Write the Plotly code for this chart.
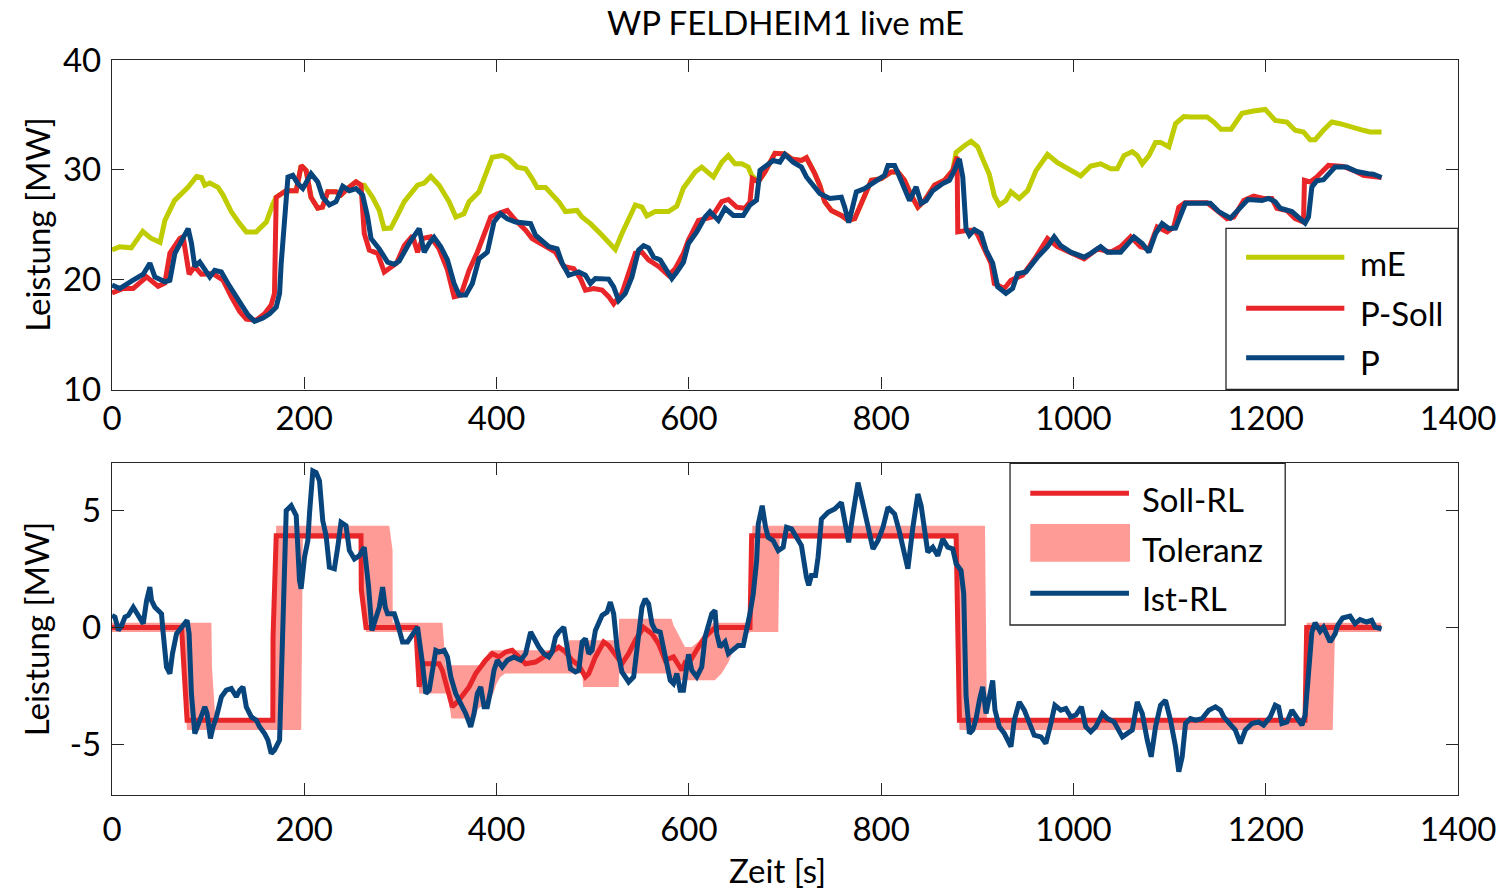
import plotly.graph_objects as go

# ---------------- upper panel: power [MW] ----------------
me_t = [0, 8, 20, 32, 40, 50, 55, 65, 79, 88, 93, 96.5, 101.7, 110.3, 115.5, 124, 132.8, 139.7, 150, 160.5, 167.3,
        170.8, 181, 191.6, 196.8, 201.9, 207, 214, 218.9, 224.4, 233, 238, 247, 253.8, 259,
        262.4, 271, 278, 283, 290, 296, 304, 317.8, 324.7, 331.6, 340.2, 350.6, 357.6, 366, 371.4, 381.7, 388.7,
        395.5, 405.9, 412.9, 421.5, 430.2, 437, 442.2, 450.9, 457.8, 464.7, 471.7, 483.7, 488.9, 497.6, 509.7, 520,
        523.5, 530.4, 537.3, 544.3, 551.2, 556.3, 565, 578.8, 587.5, 594.4, 606.5, 613.4, 625.5, 634.2, 641, 648,
        655, 661.8, 665.3,
        672.2, 679.1, 689.5, 699.8, 706.7, 717.1, 722.3, 731, 736.1, 741.3, 748.2, 758.6, 765.6, 772.5, 781.1,
        789.8, 800.1, 810.5, 817.4, 824.3, 831.2, 838.2, 845.1, 855.5, 865.9, 874.5, 878,
        882, 886.6, 893.5, 900.4, 905.6, 912.5, 917.7, 922.9, 929.8, 935, 943.6, 952.3, 960.9, 973, 983.4, 995.5,
        1007.6, 1018, 1028.3, 1038.7, 1045.6, 1052.6, 1061.2, 1066.4, 1071.6, 1078.5, 1085.4, 1090.6, 1099.3,
        1106.2, 1114.8, 1121.7, 1139, 1146, 1153.5, 1164, 1168.5, 1175.4, 1187.4, 1199.5, 1209.9, 1222, 1230.6,
        1239.3, 1246.2, 1251.4, 1260, 1268.7, 1277.3, 1287.7, 1301.5, 1308.4, 1320.5]
me_v = [22.7, 23.0, 22.9, 24.4, 23.8, 23.4, 25.4, 27.2, 28.4, 29.4, 29.3, 28.6, 28.8, 28.4, 27.7, 26.2, 25.1, 24.35,
        24.35, 25.25, 26.9,
        27.5, 28.1, 28.1, 30.4, 29.95, 27.5, 26.5, 26.6, 28.0, 28.0, 27.7, 28.45, 28.9, 28.6,
        28.6, 27.5, 26.3, 24.65, 24.7, 25.7, 27.1, 28.6, 28.8, 29.4, 28.6, 27.1, 25.7, 26.0, 27.1, 28.0, 29.65,
        31.15, 31.3, 31.0, 30.25, 30.1, 29.2, 28.4, 28.4, 27.8, 27.1, 26.2, 26.3, 25.7, 25.1, 24.05, 23.0,
        22.75, 24.2, 25.4, 26.8, 26.6, 25.8, 26.2, 26.2, 26.7, 28.35, 29.8, 30.25, 29.35, 30.7, 31.3, 30.55,
        30.55, 30.25, 29.5,
        28.9, 29.8, 31.5, 31.45, 31.0, 30.85, 31.1, 29.65, 28.6, 27.1, 26.3, 25.85, 25.4, 25.55, 27.2,
        29.05, 29.2, 29.8, 29.8, 29.05, 27.7, 26.6, 27.2, 28.6, 29.05, 29.95, 31.6,
        31.9, 32.2, 32.6, 32.1, 31.0, 29.6, 27.65, 26.8, 27.2, 28.0, 27.4, 28.1, 29.9, 31.4, 30.65, 30.05,
        29.45, 30.35, 30.55, 30.1, 30.1, 31.3, 31.65, 31.3, 30.55, 31.3, 32.5, 32.5, 32.1,
        34.2, 34.85, 34.8, 34.8, 34.35, 33.7, 33.7, 34.35, 35.15, 35.35, 35.5, 34.5, 34.35, 33.6,
        33.45, 32.75, 32.75, 33.6, 34.35, 34.2, 33.9, 33.6, 33.45, 33.45]

psoll_t = [0, 11.8, 22, 36, 48, 55, 60.2, 70.5, 74, 78, 80.2, 86, 93, 105, 115.5, 124, 132.8, 139.7, 150, 158.7,
           165.6, 169, 170.8, 181, 191.6, 196.8, 201.9, 207, 214, 218.9, 224.4, 233, 238, 247, 253.8, 259,
           262.4, 267.6, 276.3, 283.2, 291.8, 296, 304, 312.6, 317.8, 323, 331.6, 340.2, 348.9, 355.8, 362.8,
           371.4, 380, 387, 393.9, 400.8, 411.1, 419.8, 430.2, 437, 449.2, 461.3, 470, 480.3, 487.2, 492.4, 501,
           509.7, 516.6, 521.8, 530.4, 537.3, 544.3, 551.2, 558, 568.5, 578.8, 585.8, 594.4, 599.6, 610, 623.8,
           634.2, 641.1, 649.7, 658.4, 663.6, 666, 672.2, 679.1, 689.5, 699.8, 706.7, 717.1, 722.3, 731, 736.1,
           741.3, 748.2, 758.6, 765.6, 772.5, 781.1, 789.8, 800.1, 810.5, 817.4, 824.3, 831.2, 838.2, 845.1,
           855.5, 865.9, 874.5, 879, 879.7, 890.1, 897, 900.4, 907.3, 914.2, 917.7, 928.1, 935, 947.1, 960.9,
           973, 983.4, 997.2, 1011.1, 1024.9, 1038.7, 1049.1, 1059.5, 1069.8, 1078.5, 1087.1, 1097.5, 1104.4,
           1109.6, 1116, 1139, 1149.4, 1159.8, 1166.7, 1177.1, 1187.4, 1197.8, 1206.4, 1211.6, 1222, 1230.6,
           1239.3, 1240.3, 1246.2, 1253.1, 1265.2, 1280.8, 1291.2, 1301.5, 1320.5]
psoll_v = [18.8, 19.2, 19.2, 20.25, 19.4, 19.7, 22.4, 23.75, 23.9, 21.2, 20.5, 21.2, 20.5, 20.55, 19.95, 18.45,
           17.1, 16.4, 16.3, 16.9, 17.7, 18.75, 27.5, 28.1, 28.1, 30.4, 29.95, 27.5, 26.5, 26.6, 28.0, 28.0,
           27.7, 28.45, 28.9, 28.6,
           24.2, 22.7, 22.4, 20.7, 21.2, 21.5, 23.1, 24.0, 22.5, 23.75, 23.9, 22.8, 20.9, 18.45, 18.6,
           20.85, 22.5, 24.2, 25.7, 26.0, 26.3, 25.4, 24.5, 23.75, 23.1, 22.5, 21.2, 21.0, 20.1, 19.05, 19.2,
           19.05, 18.45, 17.8, 18.75, 20.4, 22.4, 22.5, 21.8, 21.2, 20.4, 21.0, 22.4, 23.6, 25.4, 25.7,
           27.1, 27.3, 26.6, 26.5, 27.1, 29.2, 28.9, 29.8, 31.5, 31.45, 31.0, 30.85, 31.1, 29.65, 28.6,
           27.1, 26.3, 25.85, 25.4, 25.55, 27.2, 29.05, 29.2, 29.8, 29.8, 29.05, 27.7, 26.6, 27.2,
           28.6, 29.05, 29.95, 31.2, 24.35, 24.5, 24.5, 24.1, 22.7, 21.5, 19.65, 19.2, 19.95, 20.4, 22.05,
           23.75, 23.0, 22.4, 21.9, 22.8, 22.5, 23.0, 23.9, 23.0, 22.8, 24.8, 24.35, 24.8,
           26.6, 27.0, 27.0, 26.3, 25.55, 25.7, 27.2, 27.6, 27.4, 27.4, 26.5, 26.3, 25.55,
           25.25, 29.05, 28.9, 29.35, 30.4, 30.3, 29.95, 29.5, 29.3]

p_t = [0, 8.3, 22, 32.5, 39.4, 44.6, 55, 60.2, 65.4, 72.3, 79.2, 82.7, 86.1, 91.3, 96.5, 101.7, 106.8, 113.7,
       120.6, 127.6, 136.2, 141.4, 148.3, 157, 163.9, 170.8, 174.3, 176, 179.5, 183, 188, 193.3, 198.5, 207.1,
       214, 219.2, 226.1, 233, 240, 246.9, 253.8, 260.7, 265.9, 269.4, 278, 286.6, 293.6, 298.8, 309, 319.5,
       324.7, 329.9, 335, 342, 348.9, 355.8, 361, 368, 374.8, 381.7, 390.4, 397.3, 404.2, 411.1, 419.8, 428.4,
       435.4, 440.5, 447.4, 454.4, 463, 468.2, 475.1, 485.5, 492.4, 497.6, 502.8, 516.6, 521.8, 527, 533.9,
       540.8, 547.7, 552.9, 558.1, 563.3, 570.2, 577.1, 582.3, 587.5, 594.4, 599.6, 608.2, 616.9, 622, 630.7,
       637.6, 646.3, 656.6, 663.6, 670.4, 674, 680.8, 687.8, 694.7, 699.9, 708.5, 717.1, 722.3, 729.3, 736.2,
       746.6, 755.2, 758.6, 762.1, 766.3, 774.2, 782.9, 793.3, 803.6, 807.1, 814, 819.2, 824.3, 829.5, 836.4,
       841.6, 846.8, 853.7, 864.1, 871, 876.2, 881.4, 884.9, 888.3, 891.8, 897, 903.9, 909.1, 916, 921.2,
       929.8, 936.7, 941.9, 950.5, 962.7, 973, 980, 986.8, 997.2, 1011.1, 1018, 1028.3, 1035.3, 1049.1, 1063,
       1071.6, 1078.5, 1085.4, 1092.3, 1099.3, 1106.2, 1111.4, 1116.5, 1142.4, 1151.1, 1163.3, 1172, 1181.5,
       1196.1, 1203, 1209.9, 1215.1, 1227.2, 1234.1, 1241, 1244.5, 1248, 1253.1, 1260.1, 1272.1, 1284.2,
       1294.6, 1301.5, 1306.7, 1311.9, 1320.5]
p_v = [19.5, 19.2, 19.95, 20.5, 21.5, 20.25, 19.8, 19.95, 22.4, 23.6, 24.65, 23.3, 21.2, 21.6, 20.85, 20.25,
       20.85, 20.7, 19.65, 18.6, 17.5, 16.8, 16.2, 16.5, 16.9, 17.5, 18.75, 21.5, 26.0, 29.35, 29.5, 28.75,
       28.3, 29.65, 28.9, 27.5, 26.8, 27.1, 28.5, 28.1, 28.3, 27.7, 25.7, 23.75, 22.8, 21.6, 21.4, 21.7, 23.3,
       24.65, 22.5, 23.3, 23.85, 23.0, 21.8, 19.65, 18.6, 18.6, 19.65, 21.9, 22.5, 25.25, 26.0, 25.55, 25.25,
       25.15, 25.1, 24.05, 23.5, 23.0, 22.8, 21.5, 20.4, 20.7, 20.4, 19.65, 20.1, 20.05, 19.35, 18.1, 18.75,
       20.25, 22.7, 23.1, 22.9, 22.05, 21.8, 20.85, 20.1, 20.7, 21.6, 23.3, 24.35, 25.7, 26.2, 25.4,
       26.5, 25.85, 25.85, 26.8, 27.25, 29.95, 30.4, 30.85, 30.7, 31.4, 30.7, 30.25, 29.35, 28.6, 27.85,
       27.4, 27.4, 27.5, 26.6, 25.2, 28.0, 28.3, 28.9, 29.5, 30.4, 30.4, 29.35, 28.3, 27.2, 28.45,
       26.95, 27.2, 28.1, 28.75, 29.05, 29.95, 31.0, 29.35, 24.65, 24.05, 24.55, 24.2, 22.7, 21.5, 19.35,
       18.75, 19.2, 20.55, 20.7, 22.05, 23.0, 23.9, 23.1, 22.5, 22.05, 22.4, 23.0, 22.5, 22.5, 23.9,
       23.3, 22.5, 24.2, 25.1, 24.65, 24.7, 26.0, 26.95, 26.95, 26.2, 25.6, 26.4, 27.3,
       27.2, 27.4, 27.1, 26.5, 26.2, 25.7, 25.15, 25.7, 28.45, 29.0, 29.1, 30.25, 30.25,
       29.85, 29.8, 29.65, 29.6, 29.3]

# ---------------- lower panel: control reserve [MW] ----------------
soll_t = [0, 72.3, 78.1, 167.3, 167.5, 170.8, 259, 259.3, 264.2, 316, 319.5, 323, 330, 340.2, 343.6, 354, 361,
          371.4, 378.3, 388.7, 395.5, 402.5, 409.4, 416.3, 423.2, 430.2, 440.5, 447.4, 454.4, 464.7, 471.7,
          478.5, 485.5, 492.4, 495.9, 502.8, 511.4, 516.6, 523.5, 530.4, 537.3, 544.3, 552.9, 561.5, 568.5,
          575.4, 584, 592.6, 596.1, 599.6, 610, 616.9, 627.3, 663.6, 665.3, 878, 881.4, 1240.9, 1242.6, 1320]
soll_v = [0, 0, -3.96, -3.96, -0.4, 3.91, 3.91, 1.6, 0.0, 0.0, -2.54, -1.55, -1.55, -1.55, -1.83, -3.39, -3.1,
          -2.54, -1.97, -1.4, -1.12, -1.26, -1.05, -0.98, -1.26, -1.55, -1.48, -1.33, -1.12, -0.84, -1.05,
          -1.4, -1.62, -2.11, -1.97, -1.26, -0.62, -0.77, -1.12, -1.55, -1.12, -0.55, 0.0, -0.27, -0.7,
          -1.4, -1.26, -1.83, -1.5, -1.55, -0.84, -0.41, 0.0, 0.0, 3.91, 3.91, -3.96, -3.96, 0.0, 0.0]

tol_t = [0, 72, 75, 78, 103.4, 104, 107.5, 167.3, 167.6, 170.8, 196.8, 198.5, 259, 259.3, 264.2, 288.4, 291.8,
         292, 316, 319.5, 343.7, 347, 349, 353, 376.6, 378, 381, 383, 385, 390, 392, 393, 396.5, 400, 404, 409,
         463, 463.5, 475, 475.5, 489, 490, 527, 527.5, 580, 582, 584, 589, 596, 603, 610, 617, 625, 627, 634,
         641, 646, 652, 658, 663, 664.5, 666, 693, 694.5, 878, 881.4, 908, 910, 1240.9, 1242.6, 1269.7, 1272,
         1320]
tol_lo = [-0.2, -0.2, -2.5, -4.38, -4.38, -4.38, -4.38, -4.38, -4.38, -4.38, -4.38, 3.77, 3.77, 1.4, -0.2,
          -0.2, -0.2, -0.2, -0.2, -2.82, -2.82, -2.82, -2.82, -3.89, -3.89, -3.68, -3.47, -3.4, -3.38, -3.33,
          -3.2, -3.12, -2.82, -2.4, -2.12, -1.97, -1.97, -1.97, -1.97, -1.97, -1.97, -2.54, -2.54, -1.97,
          -1.97, -2.26, -2.26, -2.26, -2.26, -2.26, -2.26, -2.26, -2.26, -2.26, -1.97, -1.5, -1.0, -0.84,
          -0.3, -0.2, -0.2, -0.2, -0.2, 3.77, 3.77, -4.38, -4.38, -4.38, -4.38, -4.38, -4.38, -0.2, -0.2]
tol_up = [0.2, 0.2, 0.2, 0.2, 0.2, -1.7, -3.89, -3.89, 0.0, 4.34, 4.34, 4.34, 4.34, 4.34, 4.34, 4.34, 3.3,
          0.2, 0.2, 0.2, 0.2, -1.62, -1.62, -1.62, -1.62, -1.62, -1.62, -1.62, -1.4, -1.2, -1.05, -1.02,
          -0.98, -0.98, -0.98, -0.98, -0.98, -0.84, -0.84, -0.55, -0.55, -0.55, -0.55, 0.37, 0.37, 0.37,
          0.1, -0.27, -0.84, -0.84, -0.6, -0.2, 0.2, 0.2, 0.2, 0.2, 0.2, 0.2, 0.2, 0.2, 0.2, 4.34, 4.34,
          4.34, 4.34, 4.34, 4.34, -3.89, -3.89, 0.2, 0.2, 0.2, 0.2]

ist_t = [0, 3.1, 6.6, 10, 13.5, 16.9, 22.1, 25.6, 32.5, 36, 39.4, 41.1, 44.6, 48.1, 51.5, 53.3, 56.7, 60.2,
         62.9, 67.1, 72.3, 78.1, 80.2, 82.6, 86.1, 89.6, 93, 96.5, 98.9, 102.4, 105.1, 108.6, 113.8, 118.9,
         124.1, 129.3, 132.8, 136.2, 139.7, 144.9, 150.1, 153.5, 158.7, 162.2, 165.6, 169.1, 174.3, 176, 177.7,
         179.5, 181.2, 186.4, 191.6, 195, 196.7, 200.2, 203.7, 205.4, 208.9, 212.3, 215.8, 219.2, 222.7, 226.1,
         231.3, 234.8, 238.2, 243.4, 246.9, 252.1, 257.3, 262.4, 264.2, 266.9, 270.4, 274.5, 278, 281.5,
         284.2, 286.6, 293.6, 297, 302.2, 307.4, 312.6, 317.8, 323, 326.4, 329.9, 333.4, 336.8, 340.3, 345.5,
         348.9, 352.4, 357.5, 362.7, 367.9, 373.1, 376.6, 380, 383.5, 387, 390.4, 393.9, 397.3, 400.8, 405.9,
         411.2, 418, 425, 430.2, 435.4, 438.8, 444, 449.2, 454.4, 457.8, 461.3, 464.7, 469.9, 473.4, 476.8,
         482, 485.5, 489, 492.4, 495.9, 499.3, 502.8, 509.7, 514.9, 518.3, 521.8, 525.3, 530.4, 537.4, 542.6,
         547.7, 551.2, 554.6, 558.1, 561.6, 565, 570.2, 575.4, 580.6, 584, 587.5, 591, 594.4, 599.6, 603,
         608.2, 613.4, 616.9, 620.3, 623.8, 627.2, 629, 632.4, 637.6, 641.1, 646.3, 651.4, 656.6, 660.1,
         663.5, 667, 670.5, 672.2, 676.3, 679.8, 682.6, 687.7, 693, 698.1, 701.6, 706.8, 712, 717.1, 722.3,
         724.7, 727.5, 731.7, 734.4, 737.9, 744.8, 751.7, 758.6, 762.1, 766.2, 770.7, 775.9, 781.1, 786.3,
         791.5, 796.7, 801.9, 807.1, 814, 819.1, 824.3, 827.8, 833, 838.2, 841.6, 845.1, 848.5, 853.7, 858.9,
         864.1, 869.3, 874.5, 878, 883.1, 885.9, 888.3, 891.8, 895.3, 898.7, 902.2, 905.6, 909.1, 912.5, 916,
         918.4, 922.9, 928.1, 935, 938.5, 943.7, 948.9, 954, 959.2, 966.2, 971.3, 976.5, 980.7, 986.9, 992.1,
         997.3, 1002.5, 1008.3, 1012.8, 1018, 1023.2, 1030.1, 1035.3, 1042.2, 1047.4, 1050.9, 1056.1, 1061.2,
         1066.4, 1071.6, 1076.8, 1080.9, 1085.4, 1090.6, 1095.8, 1101, 1106.2, 1109.6, 1113.1, 1116.6, 1121.7,
         1126.9, 1133.9, 1140.8, 1147.7, 1152.9, 1156.3, 1161.5, 1168.4, 1173.6, 1178.8, 1185.7, 1192.6,
         1197.8, 1204.7, 1209.9, 1213.4, 1216.8, 1222, 1227.2, 1232.4, 1237.6, 1241, 1244.5, 1248, 1251.4,
         1256.6, 1260.1, 1265.3, 1267, 1272.2, 1275, 1280, 1287.7, 1292.9, 1298.1, 1305, 1310.2, 1313.7,
         1320.5]
ist_v = [0.51, 0.44, -0.13, 0.08, 0.44, 0.51, 0.86, 0.65, 0.16, 1.15, 1.72, 1.15, 0.86, 0.72, 0.58, -0.27,
         -1.69, -1.97, -1.12, -0.27, 0.0, 0.30, -0.27, -2.82, -4.53, -4.1, -3.82, -3.39, -3.67, -4.74, -4.24,
         -3.82, -2.96, -2.68, -2.61, -2.96, -2.68, -2.54, -3.39, -3.82, -3.96, -4.24, -4.53, -4.81, -5.38,
         -5.23, -4.81, -2.11, 0.72, 3.56, 4.98, 5.19, 4.77, 2.0, 1.65, 2.99, 3.7, 4.84, 6.68, 6.61, 6.25, 4.55,
         3.91, 2.57, 2.5, 3.42, 4.48, 4.34, 3.28, 2.92, 3.06, 3.42, 2.85, 1.72, -0.13, 0.44, 0.86, 1.72, 0.86,
         0.58, 0.58, 0.16, -0.62, -0.62, -0.27, 0.01, -1.55, -2.82, -2.68, -1.69, -0.98, -1.05, -0.98, -1.26,
         -2.11, -2.82, -3.25, -3.67, -4.24, -3.67, -2.82, -2.54, -3.39, -3.39, -2.68, -1.83, -1.4, -1.69,
         -1.4, -1.26, -1.4, -1.12, -0.2, -0.48, -0.84, -1.12, -1.26, -1.05, -0.41, -0.2, 0.01, -0.84, -1.76,
         -1.9, -1.83, -0.62, -0.48, -1.12, -0.98, -0.13, 0.51, 0.65, 1.08, 0.58, -0.84, -1.9, -2.33, -2.11,
         -0.27, 0.86, 1.22, 1.01, 0.16, -0.13, -0.2, -1.26, -2.26, -2.4, -1.97, -2.68, -2.68, -1.15, -1.83,
         -2.11, -1.69, -0.41, 0.01, 0.58, 0.72, -0.27, -0.84, -0.62, -1.12, -0.91, -0.77, -0.77, -0.13,
         0.58, 1.43, 2.85, 4.41, 5.19, 4.27, 3.84, 3.7, 3.28, 3.42, 4.27, 4.2, 3.84, 3.49, 2.14,
         1.79, 2.21, 2.21, 2.99, 4.62, 4.91, 5.05, 5.33, 4.55, 3.63, 4.84, 6.18, 5.26, 4.27,
         3.35, 3.7, 4.27, 5.12, 4.84, 4.06, 2.99, 2.5, 4.27, 5.69, 5.19, 4.06, 3.21, 3.42, 3.06,
         3.77, 3.42, 3.35, 2.71, 2.43, 1.43, -2.9, -4.53, -4.38, -3.9, -3.11, -2.54, -3.67, -2.96, -2.26,
         -3.53, -4.24, -4.52, -5.09, -3.96, -3.18, -3.53, -4.1, -4.6, -4.67, -4.95, -4.1, -3.32, -3.53, -3.46,
         -3.82, -3.74, -3.39, -4.24, -4.45, -4.24, -3.67, -3.89, -4.03, -4.38, -4.67, -4.52, -4.38,
         -3.18, -3.67, -4.81, -5.52, -4.24, -3.32, -3.11, -3.96, -5.09, -6.16, -5.52, -4.1, -3.89,
         -3.96, -3.89, -3.53, -3.39, -3.53, -3.82, -4.03, -4.38, -4.95, -4.38, -4.1, -4.03,
         -4.17, -3.82, -3.32, -3.39, -4.1, -4.03, -3.53, -3.82, -4.17, -3.75, -2.2, -0.2, 0.2,
         -0.17, 0.01, -0.55, -0.62, -0.27, 0.1, 0.4, 0.48, 0.16, 0.33, 0.23, 0.3, 0.01,
         -0.06]

# ---------------- axis ticks ----------------
x_ticks = [0, 200, 400, 600, 800, 1000, 1200, 1400]
y1_ticks = [10, 20, 30, 40]
y2_ticks = [-5, 0, 5]
y2_labels = ["-5", "0", "5"]

# ---------------- styling ----------------
C_ME = "#BFCC00"
C_SOLL = "#E8262A"
C_P = "#07457C"
C_TOL = "#FF9B96"
AXC = "#262626"
FONT = "Lato, 'Open Sans', sans-serif"
FS = 33
LW = 5

W, H = 1508, 891
ML, MR, MT, MB = 112, 46, 60, 96
PW, PH = W - ML - MR, H - MT - MB


def px(x):
    return (x - ML) / PW


def py(y):
    return (H - MB - y) / PH


fig = go.Figure()

fig.add_trace(go.Scatter(x=me_t, y=me_v, mode="lines", line=dict(color=C_ME, width=LW),
                         name="mE", xaxis="x", yaxis="y"))
fig.add_trace(go.Scatter(x=psoll_t, y=psoll_v, mode="lines", line=dict(color=C_SOLL, width=LW),
                         name="P-Soll", xaxis="x", yaxis="y"))
fig.add_trace(go.Scatter(x=p_t, y=p_v, mode="lines", line=dict(color=C_P, width=LW),
                         name="P", xaxis="x", yaxis="y"))

fig.add_trace(go.Scatter(x=tol_t, y=tol_lo, mode="lines", line=dict(width=0, color=C_TOL),
                         showlegend=False, xaxis="x2", yaxis="y2", hoverinfo="skip"))
fig.add_trace(go.Scatter(x=tol_t, y=tol_up, mode="lines", line=dict(width=0, color=C_TOL),
                         fill="tonexty", fillcolor=C_TOL, name="Toleranz", xaxis="x2", yaxis="y2"))
fig.add_trace(go.Scatter(x=soll_t, y=soll_v, mode="lines", line=dict(color=C_SOLL, width=LW),
                         name="Soll-RL", xaxis="x2", yaxis="y2"))
fig.add_trace(go.Scatter(x=ist_t, y=ist_v, mode="lines", line=dict(color=C_P, width=LW),
                         name="Ist-RL", xaxis="x2", yaxis="y2"))

axis_common = dict(showline=True, linecolor=AXC, linewidth=1.3, mirror="ticks", ticks="inside",
                   ticklen=12, tickwidth=1.3, tickcolor=AXC, showgrid=False, zeroline=False,
                   tickfont=dict(family=FONT, size=FS, color="black"))

top_lo = py(389.5)
bot_hi = py(463.3)

fig.update_layout(
    width=W, height=H, showlegend=False,
    paper_bgcolor="white", plot_bgcolor="white",
    margin=dict(l=ML, r=MR, t=MT, b=MB),
    xaxis=dict(domain=[0, 1], anchor="y", range=[0, 1400], tickvals=x_ticks,
               ticklabelstandoff=0, **axis_common),
    yaxis=dict(domain=[top_lo, 1], anchor="x", range=[10, 40], tickvals=y1_ticks,
               ticklabelstandoff=3, **axis_common),
    xaxis2=dict(domain=[0, 1], anchor="y2", range=[0, 1400], tickvals=x_ticks,
                ticklabelstandoff=5, **axis_common),
    yaxis2=dict(domain=[0, bot_hi], anchor="x2", range=[-7.15, 7.0], tickvals=y2_ticks,
                ticktext=y2_labels, ticklabelstandoff=3, **axis_common),
)

shapes = []
annotations = []


def txt(x, y, s, xanchor="left", angle=0):
    annotations.append(dict(x=px(x), y=py(y), xref="paper", yref="paper", text=s, showarrow=False,
                            xanchor=xanchor, yanchor="middle", textangle=angle,
                            font=dict(family=FONT, size=FS, color="black")))


# title and axis labels
txt(787, 22, "WP FELDHEIM1 live mE", xanchor="center")
txt(36, 224.5, "Leistung [MW]", xanchor="center", angle=-90)
txt(36, 629, "Leistung [MW]", xanchor="center", angle=-90)
txt(779, 870, "Zeit [s]", xanchor="center")

# legend of the upper panel
shapes.append(dict(type="rect", xref="paper", yref="paper", x0=px(1229.3), x1=px(1462), y0=py(389.5),
                   y1=py(228.3), line=dict(color=AXC, width=1.3), fillcolor="white", layer="above"))
for yy, col in [(257.3, C_ME), (308.3, C_SOLL), (357.7, C_P)]:
    shapes.append(dict(type="line", xref="paper", yref="paper", x0=px(1249.5), x1=px(1348), y0=py(yy),
                       y1=py(yy), line=dict(color=col, width=LW), layer="above"))
txt(1361.7, 263, "mE")
txt(1361.7, 313, "P-Soll")
txt(1361.7, 362, "P")

# legend of the lower panel
shapes.append(dict(type="rect", xref="paper", yref="paper", x0=px(1012.7), x1=px(1288.7), y0=py(625),
                   y1=py(463.3), line=dict(color=AXC, width=1.3), fillcolor="white", layer="above"))
shapes.append(dict(type="line", xref="paper", yref="paper", x0=px(1033), x1=px(1132), y0=py(493.3),
                   y1=py(493.3), line=dict(color=C_SOLL, width=LW), layer="above"))
shapes.append(dict(type="rect", xref="paper", yref="paper", x0=px(1033), x1=px(1133), y0=py(561.7),
                   y1=py(524), line=dict(width=0), fillcolor=C_TOL, layer="above"))
shapes.append(dict(type="line", xref="paper", yref="paper", x0=px(1033), x1=px(1132), y0=py(593.3),
                   y1=py(593.3), line=dict(color=C_P, width=LW), layer="above"))
txt(1143.3, 499, "Soll-RL")
txt(1143.3, 549, "Toleranz")
txt(1143.3, 598, "Ist-RL")

fig.update_layout(shapes=shapes, annotations=annotations)

fig.write_html("out.html")
